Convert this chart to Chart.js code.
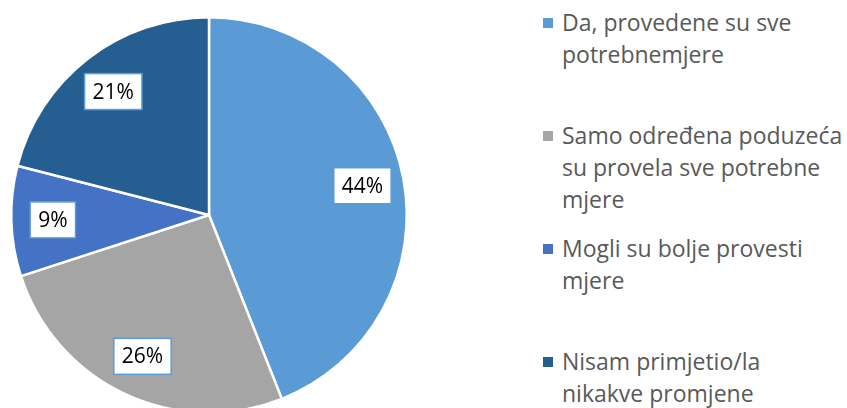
<!DOCTYPE html>
<html>
<head>
<meta charset="utf-8">
<script src="https://cdn.jsdelivr.net/npm/chart.js@4"></script>
<style>
  html, body { margin: 0; padding: 0; width: 847px; height: 408px; overflow: hidden; background: #fff; }
  #wrap { position: absolute; left: 0; top: 0; width: 420px; height: 430px; }
  #legend { position: absolute; left: 543px; top: 6px; width: 304px; font-family: "Open Sans", Lato, sans-serif; font-size: 23px; color: #595959; }
  .item { position: relative; height: 113px; padding-left: 19px; line-height: 32px; white-space: nowrap; }
  .box { position: absolute; left: 0; top: 12px; width: 10px; height: 10px; }
</style>
</head>
<body>
<div id="wrap"><canvas id="c"></canvas></div>
<div id="legend"></div>
<script>
const categories = [
  ["Da, provedene su sve", "potrebnemjere"],
  ["Samo određena poduzeća", "su provela sve potrebne", "mjere"],
  ["Mogli su bolje provesti", "mjere"],
  ["Nisam primjetio/la", "nikakve promjene"]
];
const values = [44, 26, 9, 21];
const colors = ["#5B9BD5", "#A5A5A5", "#4472C4", "#255E91"];

const labelPlugin = {
  id: 'boxLabels',
  afterDatasetsDraw(chart) {
    const ctx = chart.ctx;
    const meta = chart.getDatasetMeta(0);
    const data = chart.data.datasets[0].data;
    ctx.save();
    ctx.font = '21px "Open Sans", Lato, sans-serif';
    ctx.textAlign = 'center';
    ctx.textBaseline = 'middle';
    meta.data.forEach((arc, i) => {
      const p = arc.getProps(['x', 'y', 'startAngle', 'endAngle', 'outerRadius'], true);
      const mid = (p.startAngle + p.endAngle) / 2;
      const r = p.outerRadius * 0.79;
      const cx = p.x + Math.cos(mid) * r;
      const cy = p.y + Math.sin(mid) * r;
      const txt = data[i] + '%';
      const w = ctx.measureText(txt).width + 16;
      const h = 36;
      ctx.fillStyle = '#ffffff';
      ctx.fillRect(cx - w / 2, cy - h / 2, w, h);
      ctx.strokeStyle = '#5B9BD5';
      ctx.lineWidth = 1.5;
      ctx.strokeRect(cx - w / 2, cy - h / 2, w, h);
      ctx.fillStyle = '#000000';
      ctx.fillText(txt, cx, cy + 1);
    });
    ctx.restore();
  }
};

new Chart(document.getElementById('c'), {
  type: 'pie',
  data: {
    labels: categories.map(l => l.join(' ')),
    datasets: [{
      data: values,
      backgroundColor: colors,
      borderColor: '#ffffff',
      borderWidth: 2.5
    }]
  },
  options: {
    responsive: true,
    maintainAspectRatio: false,
    animation: false,
    layout: { padding: { left: 10, top: 16, right: 12, bottom: 16 } },
    plugins: { legend: { display: false }, tooltip: { enabled: false } }
  },
  plugins: [labelPlugin]
});

const legend = document.getElementById('legend');
categories.forEach((lines, i) => {
  const item = document.createElement('div');
  item.className = 'item';
  const box = document.createElement('span');
  box.className = 'box';
  box.style.background = colors[i];
  item.appendChild(box);
  lines.forEach((t, k) => {
    if (k) item.appendChild(document.createElement('br'));
    item.appendChild(document.createTextNode(t));
  });
  legend.appendChild(item);
});
</script>
</body>
</html>
